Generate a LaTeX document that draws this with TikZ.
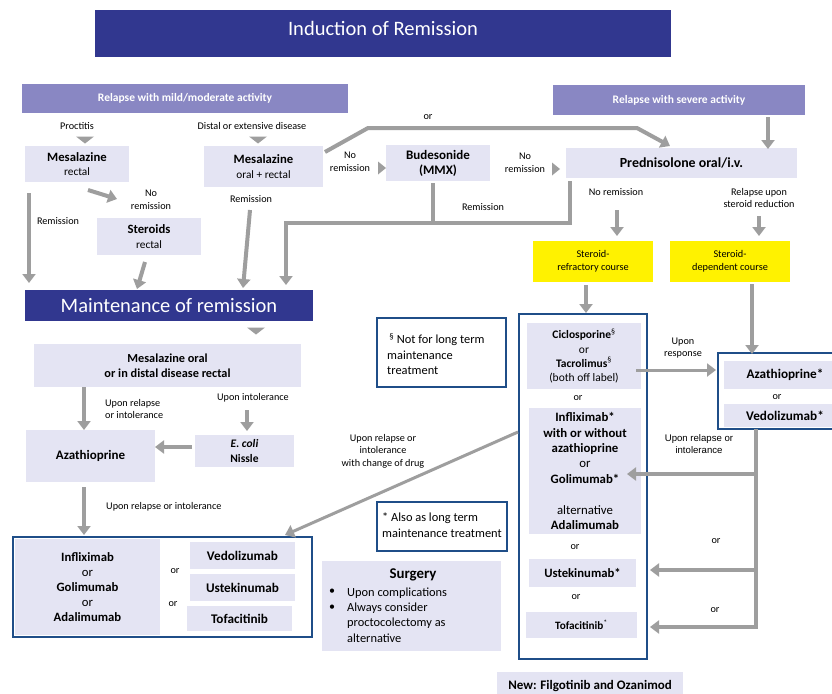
\documentclass[tikz,border=0pt]{standalone}
\usepackage{fontspec}
\setmainfont{Carlito}
\newfontfamily\arialf{Liberation Sans}
\usetikzlibrary{arrows.meta,calc}
\definecolor{navy}{RGB}{49,55,143}
\definecolor{purp}{RGB}{137,135,195}
\definecolor{lav}{RGB}{228,228,243}
\definecolor{ylw}{RGB}{255,242,0}
\definecolor{bdr}{RGB}{31,78,136}
\definecolor{agray}{RGB}{158,158,158}
\newcommand{\bx}[7]{\node[#6, minimum width={(#4-#2)*1pt}, minimum height={(#5-#3)*1pt}] (#1) at ({(#2+#4)/2},{(#3+#5)/2}) {#7};}
\newcommand{\tridown}[2]{\fill[agray] ({#1-9},{#2-3.5}) -- ({#1+9},{#2-3.5}) -- (#1,{#2+3.5}) -- cycle;}
\newcommand{\triright}[2]{\fill[agray] ({#1-4},{#2-6.5}) -- ({#1-4},{#2+6.5}) -- ({#1+4},#2) -- cycle;}
\newcommand{\fs}[2]{\fontsize{#1}{#2}\selectfont}
\begin{document}
\begin{tikzpicture}[x=1pt,y=-1pt,
  box/.style={inner sep=0pt, outer sep=0pt, align=center, text=black},
  lavbox/.style={box, fill=lav},
  navybox/.style={box, fill=navy, text=white},
  purpbox/.style={box, fill=purp, text=white, font=\fs{11.5}{13}\bfseries},
  ylwbox/.style={box, fill=ylw, font=\fs{10.3}{12.5}},
  framebox/.style={box, draw=bdr, line width=2.2pt, fill=white},
  lbl/.style={inner sep=0pt, align=center, font=\fs{10.2}{12.5}},
  line/.style={draw=agray, line width=4pt},
  arr/.style={line, -{Triangle[width=13pt,length=9pt]}}
]
\useasboundingbox (0,0) rectangle (832,693);
\fill[white] (0,0) rectangle (832,693);

% ---------- Induction ----------
\bx{title}{95}{10}{671}{57}{navybox}{}
\node[inner sep=0pt, text=white, font=\fs{20.5}{24}] (titletxt) at (383,28) {Induction of Remission};

\bx{mild}{22}{84}{348}{113}{purpbox}{Relapse with mild/moderate activity}
\bx{severe}{553}{85}{805}{115}{purpbox}{Relapse with severe activity}

\node[lbl] (lproct) at (77,126) {Proctitis};
\node[lbl] (ldist) at (252,126) {Distal or extensive disease};
\tridown{85}{140}
\tridown{258}{140}

\bx{mesrect}{25}{146}{129}{182}{lavbox, font=\fs{11.3}{14.5}}{{\fs{12.7}{14.5}\bfseries Mesalazine}\\rectal}
\bx{mesor}{204}{146}{323}{187}{lavbox, font=\fs{11.3}{14.5}}{{\fs{12.7}{14.5}\bfseries Mesalazine}\\oral + rectal}
\bx{budes}{386}{145}{490}{181}{lavbox, font=\fs{13}{15}\bfseries}{Budesonide\\(MMX)}
\bx{pred}{566}{148}{797}{178}{lavbox, font=\fs{13.9}{17}\bfseries}{Prednisolone oral/i.v.}

\node[lbl] (lnr1) at (350,162) {No\\remission};
\triright{382}{168}
\node[lbl] (lnr2) at (525,163) {No\\remission};
\triright{556}{169}

% or-line
\node[lbl] (lor) at (428,117) {or};
\draw[arr] ($(mesor.north east)+(2,6)$) -- ($(mesor.north east)+(45,-18)$) -- ($(pred.north west)+(71,-20)$) -- ($(pred.north west)+(104,-2)$);
\draw[arr] ($(severe.south east)+(-37,2)$) -- ($(pred.north east)+(-29,1)$);

% left side
\node[lbl] (lrem1) at (58,221) {Remission};
\node[lbl] (lnr3) at (151,200) {No\\remission};
\bx{steroids}{97}{218}{201}{255}{lavbox, font=\fs{11.3}{14.5}}{{\fs{12.7}{14.5}\bfseries Steroids}\\rectal}
\bx{maint}{25}{290}{313}{321}{navybox, font=\fs{20.5}{24}}{Maintenance of remission}
\draw[arr] ($(mesrect.south west)+(4,11)$) -- ($(maint.north west)+(4,-7)$);
\draw[arr] ($(mesrect.south west)+(63,8)$) -- ($(steroids.north west)+(20,-19)$);
\draw[arr] ($(steroids.south)+(-4,7)$) -- ($(maint.north west)+(112,-1)$);
\node[lbl] (lrem2) at (251,199) {Remission};
\draw[arr] ($(mesor.south)+(-13.5,23)$) -- ($(maint.north west)+(218,-2)$);

% remission bracket
\draw[line] ($(budes.south)+(-5,2)$) -- ($(budes.south)+(-5,42)$);
\draw[arr] ($(pred.south west)+(4,3)$) -- ($(pred.south west)+(4,45)$) -| ($(maint.north west)+(261,-5)$);
\node[lbl] (lrem3) at (483,207) {Remission};

% prednisolone outcomes
\node[lbl] (lnr4) at (616,192) {No remission};
\node[lbl] (lrel) at (759,198) {Relapse upon\\steroid reduction};
\bx{refr}{533}{241}{653}{282}{ylwbox}{Steroid-\\refractory course}
\bx{dep}{670}{241}{790}{282}{ylwbox}{Steroid-\\dependent course}
\draw[arr] ($(pred.south west)+(51,32)$) -- ($(refr.north west)+(84,-5)$);
\draw[arr] ($(pred.south east)+(-38,38)$) -- ($(dep.north west)+(89,-5)$);

% ---------- Maintenance ----------
\tridown{256}{331}
\bx{meso2}{34}{344}{301}{387}{lavbox, font=\fs{12.3}{15}\bfseries}{Mesalazine oral\\or in distal disease rectal}
\bx{aza}{26}{430}{155}{482}{lavbox, font=\fs{13}{15}\bfseries}{Azathioprine}
\bx{ecoli}{195}{435}{294}{467}{lavbox, font=\fs{11.5}{15}\bfseries}{\textit{E. coli}\\Nissle}
\draw[arr] ($(meso2.south west)+(50,0)$) -- ($(aza.north west)+(58,0)$);
\node[lbl, align=left, anchor=west] (lur1) at (105,409) {Upon relapse\\or intolerance};
\node[lbl] (lui) at (253,398) {Upon intolerance};
\draw[arr] ($(ecoli.north west)+(52,-25)$) -- ($(ecoli.north west)+(52,-4)$);
\draw[arr] ($(ecoli.west)+(-3,-4)$) -- ($(aza.east)+(0,-9)$);
\node[lbl, anchor=west] (lur2) at (106,507) {Upon relapse or intolerance};

% bottom-left box
\bx{bl}{13}{537}{312}{637}{framebox}{}
\bx{blL}{15}{539}{160}{635}{lavbox, font=\fs{12.7}{15.2}}{\textbf{Infliximab}\\or\\\textbf{Golimumab}\\or\\\textbf{Adalimumab}}
\bx{vedo}{190}{542}{295}{569}{lavbox, font=\fs{13.2}{15}\bfseries}{Vedolizumab}
\bx{uste2}{190}{574}{295}{601}{lavbox, font=\fs{13.2}{15}\bfseries}{Ustekinumab}
\bx{tofa2}{187}{606}{292}{631}{lavbox, font=\fs{13.2}{15}\bfseries}{Tofacitinib}
\node[lbl] (lor1) at (175,571) {or};
\node[lbl] (lor2) at (173,604) {or};
\draw[arr] ($(aza.south west)+(58,5)$) -- ($(bl.north west)+(71,-2)$);

% notes
\bx{sect}{377}{318}{506}{387}{framebox}{}
\node[inner sep=0pt, align=left, anchor=west, font=\fs{12.4}{15.5}] (secttxt) at (387,354) {\,\textsuperscript{§} Not for long term\\maintenance\\treatment};
\bx{star}{377}{502}{507}{551}{framebox}{}
\node[inner sep=0pt, align=left, anchor=west, font=\fs{12.4}{15.5}] (startxt) at (382,525) {* Also as long term\\maintenance treatment};
\bx{surg}{322}{561}{501}{651}{lavbox}{}
\node[inner sep=0pt, font=\fs{14.9}{17}\bfseries] (surgt) at (413,575) {Surgery};
\node[inner sep=0pt, font=\fs{12}{12}] (sb1) at (332,592) {\textbullet};
\node[inner sep=0pt, font=\fs{12}{12}] (sb2) at (332,608) {\textbullet};
\node[inner sep=0pt, align=left, anchor=west, font=\fs{12.4}{15.3}] (surgtxt) at (347,615) {Upon complications\\Always consider\\proctocolectomy as\\alternative};

% center box
\bx{bigc}{519}{314}{647}{659}{framebox}{}
\bx{ciclo}{527}{323}{641}{389}{lavbox, font=\fs{11.5}{14.2}}{\textbf{Ciclosporine}\textsuperscript{§}\\or\\\textbf{Tacrolimus}\textsuperscript{§}\\(both off label)}
\node[lbl] (lor3) at (578,398) {or};
\bx{infl}{529}{408}{641}{534}{lavbox, font=\fs{12.8}{15.4}}{\textbf{Infliximab*}\\\textbf{with or without}\\\textbf{azathioprine}\\or\\\textbf{Golimumab*}\\[15.4pt]alternative\\\textbf{Adalimumab}}
\node[lbl] (lor4) at (575,547) {or};
\bx{uste}{529}{559}{636}{587}{lavbox, font=\fs{12.7}{14}\bfseries}{Ustekinumab*}
\node[lbl] (lor5) at (576,597) {or};
\bx{tofa}{526}{612}{637}{638}{lavbox, font=\fs{11.2}{13}}{\textbf{Tofacitinib}\textsuperscript{*}}
\bx{newb}{497}{672}{683}{697}{lavbox}{}
\node[inner sep=0pt, font=\fs{13}{15}\bfseries] (newt) at (590,686) {New: Filgotinib and Ozanimod};

\draw[arr] ($(refr.south west)+(53,3)$) -- ($(bigc.north west)+(67,-1)$);

% right box
\bx{rb}{718}{353}{852}{429}{framebox}{}
\bx{rbaza}{724}{361}{846}{389}{lavbox, font=\fs{13.2}{15}\bfseries}{Azathioprine*}
\node[lbl] (lor6) at (777,397) {or};
\bx{rbvedo}{724}{404}{846}{427}{lavbox, font=\fs{13.2}{15}\bfseries}{Vedolizumab*}
\draw[arr] ($(dep.south west)+(82,2)$) -- ($(rb.north west)+(34,1)$);

\node[lbl] (lresp) at (683,348) {Upon\\response};
\draw[arr, line width=3pt] ($(ciclo.east)+(-5,14)$) -- ($(rb.west)+(-2,-21)$);

\node[inner sep=0pt, align=center, font=\arialf\fs{9.6}{12}] (lrel2) at (699,444) {Upon relapse or\\intolerance};
\draw[arr] ($(rb.south west)+(38,0)$) |- ($(infl.east)+(-14,3)$);
\draw[arr] ($(rb.south west)+(38,0)$) |- ($(uste.east)+(14,-3)$);
\draw[arr] ($(rb.south west)+(38,0)$) |- ($(tofa.east)+(13,2)$);
\node[lbl] (lor7) at (716,541) {or};
\node[lbl] (lor8) at (715,610) {or};

\node[lbl] (lrel3) at (383,451) {Upon relapse or\\intolerance\\with change of drug};
\draw[arr, line width=3pt] ($(bigc.north west)+(-1,118)$) -- ($(bl.north west)+(272,-2)$);
\end{tikzpicture}
\end{document}
